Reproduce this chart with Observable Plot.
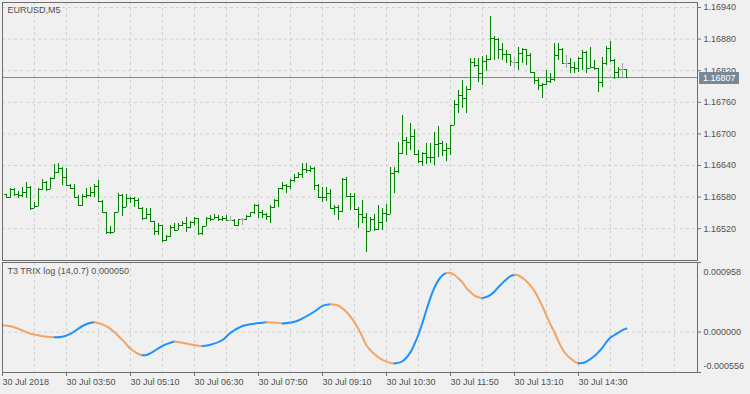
<!DOCTYPE html>
<html><head><meta charset="utf-8">
<script src="https://cdn.jsdelivr.net/npm/d3@7"></script>
<script src="https://cdn.jsdelivr.net/npm/@observablehq/plot@0.6"></script>
<style>
html,body{margin:0;padding:0;background:#f0f0f0;}
#chart svg{display:block;}
</style></head><body><div id="chart"></div>
<script>
const symbolLabel = "EURUSD,M5";
const indicatorLabel = "T3 TRIX log (14,0.7) 0.000050";
const firstBar = 1; // bar index of first visible bar (index 0 = 30 Jul 02:30)

const open = [1.16585,1.16579,1.16595,1.16584,1.16583,1.16589,1.16599,1.16559,1.16563,1.16594,
1.16608,1.16594,1.16615,1.16627,1.16635,1.16617,1.16602,1.16597,1.16580,1.16564,
1.16582,1.16583,1.16589,1.16600,1.16571,1.16551,1.16512,1.16513,1.16551,1.16583,
1.16561,1.16577,1.16578,1.16573,1.16559,1.16540,1.16547,1.16533,1.16514,1.16526,
1.16497,1.16505,1.16523,1.16516,1.16526,1.16530,1.16523,1.16532,1.16539,1.16510,
1.16524,1.16540,1.16537,1.16541,1.16537,1.16539,1.16536,1.16536,1.16526,1.16538,
1.16538,1.16544,1.16550,1.16564,1.16551,1.16546,1.16543,1.16561,1.16573,1.16596,
1.16602,1.16601,1.16611,1.16618,1.16622,1.16632,1.16630,1.16635,1.16602,1.16579,
1.16580,1.16586,1.16558,1.16561,1.16553,1.16613,1.16581,1.16582,1.16556,1.16547,
1.16541,1.16515,1.16537,1.16518,1.16532,1.16548,1.16547,1.16624,1.16628,1.16662,
1.16687,1.16684,1.16696,1.16661,1.16648,1.16662,1.16656,1.16655,1.16680,1.16681,
1.16668,1.16672,1.16716,1.16756,1.16773,1.16767,1.16784,1.16836,1.16829,1.16814,
1.16838,1.16841,1.16881,1.16879,1.16860,1.16851,1.16850,1.16836,1.16836,1.16852,
1.16860,1.16849,1.16817,1.16801,1.16792,1.16794,1.16800,1.16803,1.16849,1.16860,
1.16834,1.16834,1.16827,1.16825,1.16843,1.16855,1.16825,1.16827,1.16824,1.16798,
1.16833,1.16862,1.16839,1.16817,1.16822,1.16822];
const high = [1.16585,1.16596,1.16596,1.16590,1.16599,1.16607,1.16600,1.16569,1.16596,1.16613,
1.16609,1.16618,1.16641,1.16643,1.16637,1.16634,1.16603,1.16603,1.16583,1.16584,
1.16596,1.16599,1.16603,1.16611,1.16573,1.16551,1.16525,1.16551,1.16587,1.16584,
1.16584,1.16580,1.16580,1.16578,1.16561,1.16558,1.16558,1.16533,1.16529,1.16527,
1.16507,1.16527,1.16529,1.16529,1.16533,1.16542,1.16533,1.16542,1.16540,1.16525,
1.16542,1.16545,1.16546,1.16545,1.16543,1.16545,1.16543,1.16538,1.16538,1.16540,
1.16545,1.16551,1.16565,1.16565,1.16554,1.16548,1.16564,1.16575,1.16597,1.16608,
1.16603,1.16613,1.16622,1.16626,1.16643,1.16643,1.16638,1.16637,1.16603,1.16599,
1.16599,1.16594,1.16564,1.16564,1.16615,1.16618,1.16586,1.16587,1.16561,1.16574,
1.16548,1.16542,1.16547,1.16564,1.16558,1.16565,1.16637,1.16637,1.16684,1.16735,
1.16693,1.16720,1.16708,1.16668,1.16665,1.16682,1.16681,1.16703,1.16714,1.16686,
1.16681,1.16716,1.16763,1.16782,1.16801,1.16790,1.16843,1.16843,1.16843,1.16847,
1.16849,1.16922,1.16885,1.16881,1.16871,1.16858,1.16850,1.16846,1.16865,1.16863,
1.16860,1.16852,1.16817,1.16805,1.16795,1.16820,1.16814,1.16872,1.16871,1.16863,
1.16849,1.16843,1.16836,1.16846,1.16858,1.16857,1.16865,1.16839,1.16824,1.16845,
1.16866,1.16876,1.16841,1.16827,1.16833,1.16822];
const low = [1.16577,1.16578,1.16582,1.16578,1.16580,1.16578,1.16554,1.16559,1.16563,1.16592,
1.16591,1.16594,1.16613,1.16624,1.16602,1.16601,1.16595,1.16577,1.16564,1.16563,
1.16577,1.16580,1.16580,1.16570,1.16550,1.16509,1.16509,1.16512,1.16550,1.16544,
1.16561,1.16567,1.16561,1.16556,1.16535,1.16537,1.16532,1.16507,1.16507,1.16494,
1.16495,1.16504,1.16514,1.16516,1.16525,1.16513,1.16520,1.16526,1.16508,1.16507,
1.16524,1.16533,1.16537,1.16534,1.16534,1.16534,1.16534,1.16525,1.16524,1.16526,
1.16535,1.16541,1.16546,1.16540,1.16539,1.16535,1.16530,1.16559,1.16561,1.16592,
1.16586,1.16594,1.16608,1.16616,1.16616,1.16624,1.16626,1.16592,1.16577,1.16569,
1.16572,1.16556,1.16545,1.16536,1.16551,1.16579,1.16555,1.16555,1.16520,1.16529,
1.16475,1.16515,1.16515,1.16517,1.16517,1.16532,1.16547,1.16587,1.16624,1.16661,
1.16659,1.16668,1.16659,1.16644,1.16639,1.16642,1.16643,1.16640,1.16656,1.16658,
1.16648,1.16659,1.16716,1.16738,1.16748,1.16739,1.16782,1.16827,1.16798,1.16792,
1.16819,1.16839,1.16839,1.16842,1.16839,1.16834,1.16828,1.16825,1.16820,1.16833,
1.16830,1.16814,1.16794,1.16782,1.16767,1.16792,1.16796,1.16800,1.16839,1.16833,
1.16825,1.16814,1.16814,1.16817,1.16820,1.16814,1.16824,1.16820,1.16779,1.16788,
1.16830,1.16836,1.16803,1.16805,1.16808,1.16806];
const close = [1.16579,1.16595,1.16584,1.16583,1.16589,1.16599,1.16559,1.16563,1.16594,1.16608,
1.16594,1.16615,1.16627,1.16635,1.16617,1.16602,1.16597,1.16580,1.16564,1.16582,
1.16583,1.16589,1.16600,1.16571,1.16551,1.16512,1.16513,1.16551,1.16583,1.16561,
1.16577,1.16578,1.16573,1.16559,1.16540,1.16547,1.16533,1.16514,1.16526,1.16497,
1.16505,1.16523,1.16516,1.16526,1.16530,1.16523,1.16532,1.16539,1.16510,1.16524,
1.16540,1.16537,1.16541,1.16537,1.16539,1.16536,1.16536,1.16526,1.16538,1.16538,
1.16544,1.16550,1.16564,1.16551,1.16546,1.16543,1.16561,1.16573,1.16596,1.16602,
1.16601,1.16611,1.16618,1.16622,1.16632,1.16630,1.16635,1.16602,1.16579,1.16580,
1.16586,1.16558,1.16561,1.16553,1.16613,1.16581,1.16582,1.16556,1.16547,1.16541,
1.16515,1.16537,1.16518,1.16532,1.16548,1.16547,1.16624,1.16628,1.16662,1.16687,
1.16684,1.16696,1.16661,1.16648,1.16662,1.16656,1.16655,1.16680,1.16681,1.16668,
1.16672,1.16716,1.16756,1.16773,1.16767,1.16784,1.16836,1.16829,1.16814,1.16838,
1.16841,1.16881,1.16879,1.16860,1.16851,1.16850,1.16838,1.16836,1.16852,1.16860,
1.16849,1.16817,1.16801,1.16792,1.16794,1.16800,1.16803,1.16849,1.16860,1.16834,
1.16834,1.16827,1.16825,1.16843,1.16855,1.16825,1.16827,1.16824,1.16798,1.16833,
1.16862,1.16839,1.16817,1.16822,1.16822,1.16807];

// T3 TRIX readings: bar index and value
const indIdx = [0,2,4,7,8,10,13,15,17,20,22,23,25,27,30,32,34,35,36,37,40,41,43,45,47,50,52,55,57,60,62,65,66,69,70,73,75,78,80,82,84,86,88,90,91,93,95,97,98,100,102,103,
104,105,106,107,108,109,110,111,112,113,114,115,116,117,118,119,120,121,122,123,124,125,126,127,128,129,130,
131,132,133,134,135,136,137,138,139,140,141,142,143,144,145,146,147,148,149,150,151,152,153,154,155,156];
const indVal = [0.000095,0.000081,0.000045,-0.000023,-0.000033,-0.000056,-0.000070,-0.000063,-0.000023,0.000084,
0.000129,0.000136,0.000107,0.000045,-0.000109,-0.000230,-0.000301,-0.000318,-0.000315,-0.000290,
-0.000191,-0.000165,-0.000129,-0.000147,-0.000171,-0.000193,-0.000175,-0.000109,-0.000010,0.000084,
0.000109,0.000129,0.000136,0.000127,0.000118,0.000142,0.000189,0.000284,0.000362,0.000384,
0.000363,0.000277,0.000136,-0.000067,-0.000184,-0.000306,-0.000383,-0.000425,-0.000431,-0.000401,
-0.000275,-0.000163,
-0.000033,0.000129,0.000307,0.000475,0.000614,0.000716,0.000782,0.000815,0.000813,0.000786,
0.000739,0.000683,0.000604,0.000552,0.000502,0.000479,0.000467,0.000484,0.000513,0.000559,
0.000621,0.000677,0.000729,0.000771,0.000790,0.000779,0.000745,
0.000701,0.000641,0.000564,0.000465,0.000352,0.000228,0.000105,-0.000006,-0.000129,-0.000235,
-0.000311,-0.000363,-0.000405,-0.000429,-0.000425,-0.000405,-0.000370,-0.000329,-0.000274,-0.000212,
-0.000136,-0.000074,-0.000040,-0.000006,0.000028,0.000050];

const priceTicks = [1.16520,1.16580,1.16640,1.16700,1.16760,1.16820,1.16880,1.16940];
const indTicks = [0.000958, 0.000000, -0.000556];
const indTickLabels = ["0.000958", "0.000000", "-0.000556"];
const timeTickIdx = [0,16,32,48,64,80,96,112,128,144];
const timeTickLabels = ["30 Jul 2018","30 Jul 03:50","30 Jul 05:10","30 Jul 06:30","30 Jul 07:50",
  "30 Jul 09:10","30 Jul 10:30","30 Jul 11:50","30 Jul 13:10","30 Jul 14:30"];
const gridIdx = [8,16,24,32,40,48,56,64,72,80,88,96,104,112,120,128,136,144,152,160,168];

const xDomain = [0, 173.75];
const priceDomain = [1.164596, 1.169495];
const indDomain = [-0.000556, 0.000958];

const C = {
  bg: "#f0f0f0", frame: "#6e6e6e", grid: "#d0d0d0", text: "#505050",
  up: "#008000", doji: "#a8a8a8", priceLine: "#7c8794", priceBox: "#778899",
  rise: "#1e90ff", fall: "#f4a460"
};
const font = {background: C.bg, color: C.text, fontFamily: "'Liberation Sans', Arial, sans-serif", fontSize: "9px"};
const dash = {stroke: C.grid, strokeOpacity: 1, strokeDasharray: "3,3"};

const bars = open.map((o, k) => ({i: k + firstBar, open: o, high: high[k], low: low[k], close: close[k]}));
const barColor = d => d.open === d.close ? C.doji : C.up;
const lastClose = close[close.length - 1];

const main = Plot.plot({
  width: 750, height: 262,
  marginTop: 2, marginBottom: 2, marginLeft: 2, marginRight: 53,
  x: {domain: xDomain, axis: null},
  y: {domain: priceDomain, axis: null},
  style: font,
  marks: [
    Plot.gridY(priceTicks, dash),
    Plot.gridX(gridIdx, dash),
    Plot.ruleY([lastClose], {stroke: C.priceLine}),
    Plot.ruleX(bars, {x: "i", y1: "low", y2: "high", stroke: barColor, shapeRendering: "crispEdges"}),
    Plot.ruleY(bars, {y: "open", x1: d => d.i - 0.5, x2: "i", stroke: barColor, shapeRendering: "crispEdges"}),
    Plot.ruleY(bars, {y: "close", x1: "i", x2: d => d.i + 0.5, stroke: barColor, shapeRendering: "crispEdges"}),
    Plot.frame({stroke: C.frame}),
    Plot.axisY(priceTicks, {anchor: "right", label: null, tickSize: 3, tickPadding: 3, stroke: C.frame,
      tickFormat: d => d.toFixed(5)}),
    Plot.text([symbolLabel], {frameAnchor: "top-left", text: d => d, dx: 5, dy: 4, lineAnchor: "top", textAnchor: "start"})
  ]
});

// current price label box on the right axis
{
  const yS = main.scale("y"), xS = main.scale("x");
  const yp = Math.floor(yS.apply(lastClose));
  const x0 = xS.range[1] + 2;
  const g = d3.select(main).append("g");
  g.append("rect").attr("x", x0).attr("y", yp - 5).attr("width", 40).attr("height", 12)
    .attr("fill", C.priceBox);
  g.append("text").attr("x", x0 + 4).attr("y", yp + 1).attr("dy", "0.32em")
    .attr("text-anchor", "start").attr("fill", "#ffffff").attr("font-size", 9)
    .text(lastClose.toFixed(5));
}

// indicator segments coloured by direction
const pts = indIdx.map((i, k) => ({i, v: indVal[k]}));
const segData = [];
let seg = -1, prevCol = null;
for (let k = 1; k < pts.length; k++) {
  const col = pts[k].v >= pts[k - 1].v ? C.rise : C.fall;
  if (col !== prevCol) { seg++; prevCol = col; segData.push({...pts[k - 1], seg, col}); }
  segData.push({...pts[k], seg, col});
}

const ind = Plot.plot({
  width: 750, height: 132,
  marginTop: 0, marginBottom: 22, marginLeft: 2, marginRight: 53,
  x: {domain: xDomain, axis: null},
  y: {domain: indDomain, axis: null},
  style: font,
  marks: [
    Plot.gridY([0], dash),
    Plot.gridX(gridIdx, dash),
    Plot.line(segData, {x: "i", y: "v", z: "seg", stroke: "col", strokeWidth: 2, curve: "catmull-rom"}),
    Plot.frame({stroke: C.frame}),
    Plot.axisY(indTicks, {anchor: "right", label: null, tickSize: 3, stroke: C.frame, tickFormat: () => ""}),
    Plot.text([indTickLabels[0]], {frameAnchor: "top-right", text: d => d, dx: 6, dy: 6, textAnchor: "start"}),
    Plot.text([indTicks[1]], {y: d => d, frameAnchor: "right", text: () => indTickLabels[1], dx: 6, textAnchor: "start"}),
    Plot.text([indTickLabels[2]], {frameAnchor: "bottom-right", text: d => d, dx: 6, dy: -4, textAnchor: "start"}),
    Plot.axisX(timeTickIdx, {anchor: "bottom", label: null, tickSize: 4, tickPadding: 2, stroke: C.frame, textAnchor: "start",
      tickFormat: d => timeTickLabels[timeTickIdx.indexOf(d)]}),
    Plot.text([indicatorLabel], {frameAnchor: "top-left", text: d => d, dx: 5, dy: 5, lineAnchor: "top", textAnchor: "start"})
  ]
});

document.getElementById("chart").append(main, ind);
</script>
</body></html>
